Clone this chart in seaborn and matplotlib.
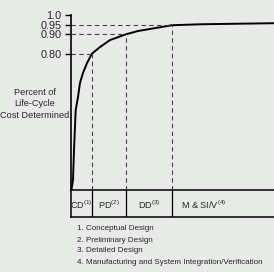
import numpy as np
import pandas as pd
import matplotlib
matplotlib.use('Agg')
import matplotlib.pyplot as plt
import seaborn as sns

# curve (x in phase units, y = share of cost determined)
curve_x = [0.02, 0.1, 0.15, 0.235, 0.35, 0.45, 0.6, 0.8, 1.05, 1.45, 1.95, 2.75, 3.35, 5.05, 6.5, 10.5]
curve_y = [0.093, 0.145, 0.30, 0.508, 0.575, 0.648, 0.70, 0.751, 0.80, 0.834, 0.870, 0.90, 0.917, 0.947, 0.952, 0.958]

phase_end = [1.05, 2.75, 5.05]
phase_level = [0.80, 0.90, 0.95]
phase_labels = ["CD$^{\\mathrm{(1)}}$", "PD$^{\\mathrm{(2)}}$", "DD$^{\\mathrm{(3)}}$", "M & SI/V$^{\\mathrm{(4)}}$"]
y_ticks = [1.0, 0.95, 0.90, 0.80]
y_ticklabels = ["1.0", "0.95", "0.90", "0.80"]
footnotes = ["1. Conceptual Design", "2. Preliminary Design", "3. Detailed Design",
             "4. Manufacturing and System Integration/Verification"]

bg = "#e8eae8"
sns.set_theme(style="white")
plt.rcParams['font.family'] = ['Liberation Sans', 'DejaVu Sans']
plt.rcParams['mathtext.fontset'] = 'custom'
plt.rcParams['mathtext.rm'] = 'Liberation Sans'

W, H = 274, 272
fig = plt.figure(figsize=(W / 100, H / 100), dpi=100, facecolor=bg)
x0, x1 = 71, 281
ax = fig.add_axes([x0 / W, 1 - 190 / H, (x1 - x0) / W, (190 - 15) / H])
box = fig.add_axes([x0 / W, 1 - 217 / H, (x1 - x0) / W, (217 - 190) / H])

ymin = 0.093
df = pd.DataFrame({"x": curve_x, "y": curve_y})
sns.lineplot(data=df, x="x", y="y", ax=ax, color="black", lw=1.4)

# dashed guides
for xe, lv in zip(phase_end, phase_level):
    ax.plot([0, xe], [lv, lv], color="#444444", lw=0.8, dashes=(4, 3))
    ax.plot([xe, xe], [ymin, lv], color="#444444", lw=0.8, dashes=(4, 3))

ax.set_xlim(0, 10.5)
ax.set_ylim(ymin, 1.0)
ax.set_facecolor(bg)
ax.set_xticks([])
ax.set_yticks(y_ticks)
ax.set_yticklabels(y_ticklabels, fontsize=7.8)
ax.tick_params(axis="y", direction="out", length=4.5, width=1, pad=2.5, left=True, color="black")
for s in ["top", "right", "bottom"]:
    ax.spines[s].set_visible(False)
ax.spines["left"].set_linewidth(1.2)
ax.spines["left"].set_color("black")
ax.set_xlabel("")
ax.set_ylabel("")

fig.text(35 / W, 1 - 104 / H, "Percent of\nLife-Cycle\nCost Determined", ha="center", va="center",
         multialignment="center", fontsize=6.6, linespacing=1.3)

# phase box
box.set_xlim(0, 10.5)
box.set_ylim(0, 1)
box.set_facecolor(bg)
box.set_xticks([])
box.set_yticks([])
for s in box.spines.values():
    s.set_linewidth(1.1)
    s.set_color("black")
for xe in phase_end:
    box.axvline(xe, color="black", lw=0.9)
edges = [0] + phase_end
centers = [(edges[i] + edges[i + 1]) / 2 for i in range(3)]
for c, lab in zip(centers, phase_labels[:3]):
    box.text(c, 0.45, lab, ha="center", va="center", fontsize=6.6)
box.text(phase_end[2] + 0.45, 0.45, phase_labels[3], ha="left", va="center", fontsize=6.6)

for i, t in enumerate(footnotes):
    fig.text(77 / W, 1 - (229 + 11 * i) / H, t, ha="left", va="center", fontsize=5.8)

fig.savefig("out.png", dpi=100, facecolor=bg)
